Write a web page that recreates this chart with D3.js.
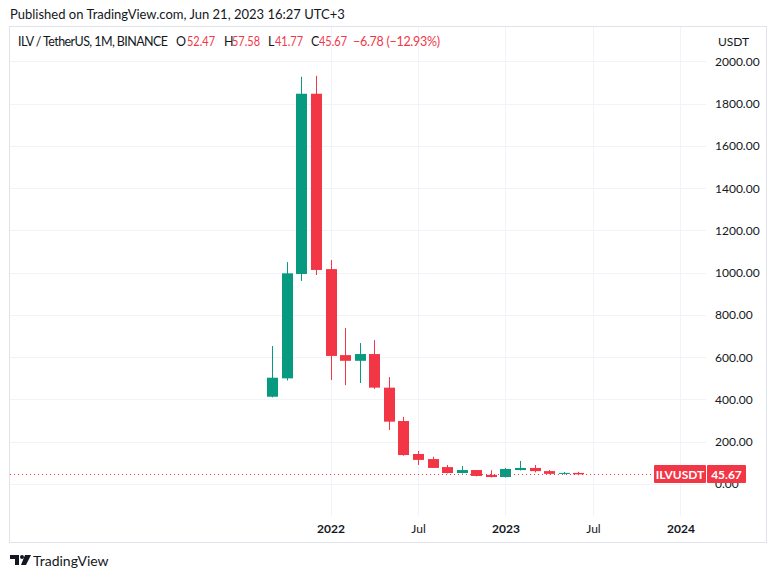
<!DOCTYPE html>
<html><head><meta charset="utf-8">
<script src="https://cdn.jsdelivr.net/npm/d3@7"></script>
<style>
body{margin:0;background:#fff;}
svg{display:block;font-family:"Lato","Open Sans",sans-serif;}
</style></head>
<body>
<svg id="c" width="777" height="579"></svg>
<script>
// ---- data (monthly candles, ILV/USDT, Binance) ----
const months = ["2021-09","2021-10","2021-11","2021-12","2022-01","2022-02","2022-03","2022-04","2022-05","2022-06","2022-07","2022-08","2022-09","2022-10","2022-11","2022-12","2023-01","2023-02","2023-03","2023-04","2023-05","2023-06"];
const open  = [413, 500, 994, 1847, 1017, 610, 583, 615, 456, 298, 142, 118, 80, 52, 66, 43, 33, 66, 76, 61, 48, 52.47];
const high  = [653, 1050, 1927, 1932, 1060, 738, 667, 681, 506, 318, 156, 129, 90, 85, 66, 65, 76, 109, 90, 66, 57, 57.58];
const low   = [410, 490, 961, 989, 492, 468, 478, 450, 256, 134, 90, 76, 50, 50, 36, 31, 31, 64, 55, 46, 45, 41.77];
const close = [503, 997, 1847, 1013, 606, 583, 615, 456, 295, 137, 114, 76, 52, 66, 38, 33, 71, 76, 61, 48, 52.47, 45.67];
const priceTicks = [0, 200, 400, 600, 800, 1000, 1200, 1400, 1600, 1800, 2000];
const timeTickIdx = [4, 10, 16, 22, 28];
const timeTickLabels = ["2022", "Jul", "2023", "Jul", "2024"];
const lastPrice = 45.67;

const UP = "#089981", DOWN = "#f23645", GRID = "#f0f3fa", TXT = "#131722";
const svg = d3.select("#c");

const plot = {l:10, r:706, t:27, b:516};
const x = d3.scaleLinear().domain([-17.98, 29.75]).range([plot.l, plot.r]);
const y = d3.scaleLinear().domain([0, 2000]).range([484, 61.4]);

// frame
svg.append("rect").attr("x",9.5).attr("y",26.5).attr("width",757).attr("height",516)
  .attr("fill","none").attr("stroke","#e0e3eb");

// grid
svg.append("g").selectAll("line").data(priceTicks).join("line")
  .attr("x1",plot.l).attr("x2",plot.r).attr("y1",d=>Math.round(y(d))+0.5).attr("y2",d=>Math.round(y(d))+0.5)
  .attr("stroke",GRID);
svg.append("g").selectAll("line").data(timeTickIdx).join("line")
  .attr("y1",plot.t).attr("y2",plot.b).attr("x1",d=>Math.round(x(d))+0.5).attr("x2",d=>Math.round(x(d))+0.5)
  .attr("stroke",GRID);

// price axis labels
const yAxis = d3.axisRight(y).tickValues(priceTicks).tickFormat(d3.format(".2f")).tickSize(0).tickPadding(0);
const ya = svg.append("g").attr("transform","translate(715,0)").call(yAxis);
ya.select(".domain").remove();
ya.selectAll("text").attr("fill",TXT).attr("font-size",12).attr("font-family","Lato, sans-serif");
svg.append("text").attr("x",718).attr("y",46).attr("font-size",12).attr("fill",TXT).text("USDT");

// time axis labels
const xAxis = d3.axisBottom(x).tickValues(timeTickIdx).tickFormat((d,i)=>timeTickLabels[i]).tickSize(0).tickPadding(0);
const xa = svg.append("g").attr("transform","translate(0,524)").call(xAxis);
xa.select(".domain").remove();
xa.selectAll("text").attr("fill",TXT).attr("font-size",12).attr("font-family","Lato, sans-serif")
  .attr("font-weight",(d,i)=>timeTickLabels[i].length===4?"bold":"normal");

// candles
const bw = 11;
const g = svg.append("g");
const idx = d3.range(months.length);
g.selectAll("line.w").data(idx).join("line").attr("class","w")
  .attr("x1",i=>Math.round(x(i))+0.5).attr("x2",i=>Math.round(x(i))+0.5)
  .attr("y1",i=>y(high[i])).attr("y2",i=>y(low[i]))
  .attr("stroke",i=>close[i]>=open[i]?UP:DOWN).attr("stroke-width",1);
g.selectAll("rect.b").data(idx).join("rect").attr("class","b")
  .attr("x",i=>Math.round(x(i))-5).attr("width",bw)
  .attr("y",i=>y(Math.max(open[i],close[i])))
  .attr("height",i=>Math.max(1,Math.abs(y(open[i])-y(close[i]))))
  .attr("fill",i=>close[i]>=open[i]?UP:DOWN);

// last price line
svg.append("line").attr("x1",plot.l).attr("x2",654).attr("y1",Math.round(y(lastPrice))+0.5).attr("y2",Math.round(y(lastPrice))+0.5)
  .attr("stroke",DOWN).attr("stroke-dasharray","1,3");
const ly = Math.round(y(lastPrice));
svg.append("rect").attr("x",654).attr("y",ly-9).attr("width",52).attr("height",18).attr("fill",DOWN).attr("rx",1);
svg.append("rect").attr("x",707).attr("y",ly-9).attr("width",39).attr("height",18).attr("fill",DOWN).attr("rx",1);
svg.append("text").attr("x",680).attr("y",ly+4.5).attr("text-anchor","middle").attr("fill","#fff")
  .attr("font-size",12).attr("font-weight","bold").text("ILVUSDT");
svg.append("text").attr("x",726.5).attr("y",ly+4.5).attr("text-anchor","middle").attr("fill","#fff")
  .attr("font-size",12).attr("font-weight","bold").text(lastPrice.toFixed(2));

// header
svg.append("text").attr("x",10).attr("y",19).attr("font-size",13).attr("fill",TXT)
  .text("Published on TradingView.com, Jun 21, 2023 16:27 UTC+3");
const hy = 46;
svg.append("text").attr("x",18).attr("y",hy).attr("font-size",12.5).attr("fill",TXT)
  .attr("textLength",150).attr("lengthAdjust","spacing").text("ILV / TetherUS, 1M, BINANCE");
const parts = [["O","52.47",176,187],["H","57.58",224,232],["L","41.77",268,275],["C","45.67",311,319]];
parts.forEach(p=>{
  svg.append("text").attr("x",p[2]).attr("y",hy).attr("font-size",12.5).attr("fill",TXT).text(p[0]);
  svg.append("text").attr("x",p[3]).attr("y",hy).attr("font-size",12.5).attr("fill",DOWN)
    .attr("textLength",28).attr("lengthAdjust","spacingAndGlyphs").text(p[1]);
});
svg.append("text").attr("x",353).attr("y",hy).attr("font-size",12.5).attr("fill",DOWN)
  .attr("textLength",87).attr("lengthAdjust","spacing").text("−6.78 (−12.93%)");

// footer logo
const logo = svg.append("g").attr("transform","translate(10,555)").attr("fill",TXT);
logo.append("path").attr("d","M0 0 H9 V10 H5 V4 H0 Z");
logo.append("circle").attr("cx",12).attr("cy",2).attr("r",2);
logo.append("path").attr("d","M15 0 H21 L16 10 H11 Z");
svg.append("text").attr("x",33).attr("y",566).attr("font-size",14).attr("fill",TXT).text("TradingView");
</script>
</body></html>
